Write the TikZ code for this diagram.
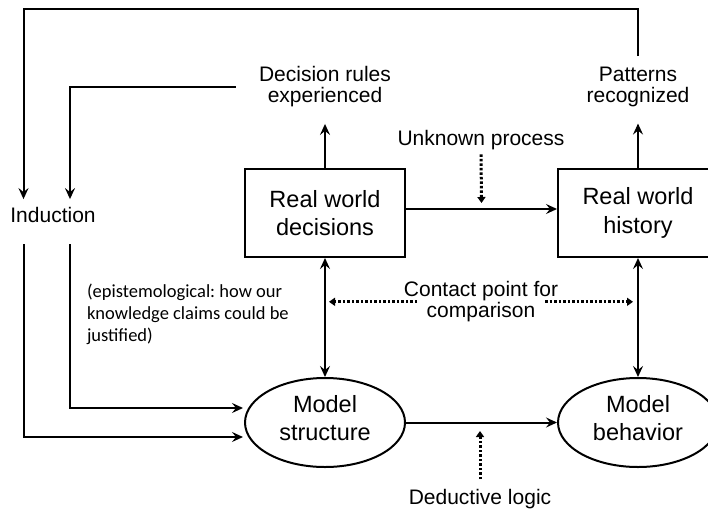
\documentclass[tikz,border=0pt]{standalone}
\usepackage{fontspec}
\setmainfont{Liberation Sans}
\newfontfamily\notefont{Carlito}
\usetikzlibrary{arrows.meta,shapes.geometric,calc}
\frenchspacing

\begin{document}
\begin{tikzpicture}[
    x=1pt, y=-1pt,
    line width=2pt,
    arr/.style={-{Stealth[length=11pt,width=10pt,inset=4pt]}},
    dblarr/.style={{Stealth[length=11pt,width=10pt,inset=4pt]}-{Stealth[length=11pt,width=10pt,inset=4pt]}},
    dotarr/.style={line width=3pt, dash pattern=on 2.5pt off 2pt,
                   -{Triangle[length=6pt,width=8pt]}},
    boxtext/.style={font=\fontsize{23.5}{28.5}\selectfont, align=center},
    label/.style={font=\fontsize{21}{21.5}\selectfont, align=center, inner sep=0pt},
    worldbox/.style={draw, rectangle, boxtext, minimum width=160pt, minimum height=88pt, inner sep=0pt},
    modelshape/.style={draw, ellipse, boxtext, text depth=9pt, minimum width=160pt, minimum height=89pt, inner sep=0pt},
  ]
  \useasboundingbox (0,0) rectangle (708,508);
  \clip (0,0) rectangle (708,508);

  % main blocks
  \node[worldbox]   (rwd) at (325,213)   {Real world\\decisions};
  \node[worldbox]   (rwh) at (638,213)   {Real world\\history};
  \node[modelshape] (ms)  at (325,422.5) {Model\\structure};
  \node[modelshape] (mb)  at (638,422.5) {Model\\behavior};

  % labels
  \node[label] (dec) at (325,86.8) {Decision rules\\experienced};
  \node[label] (pat) at (638,86.8) {Patterns\\recognized};
  \node[label] (ind) at (53,215)   {Induction};
  \node[label] (unk) at (481,140.5) {Unknown process};
  \node[label] (ded) at (480,499)  {Deductive logic};
  \node[label] (contact) at (481,301.8) {Contact point for\\comparison};
  \node[anchor=west, align=left, inner sep=0pt,
        font=\notefont\fontsize{18.5}{22}\selectfont] (epi) at (86,314)
        {(epistemological: how our\\knowledge claims could be\\justified)};

  % tips of the dotted pointers
  \coordinate (unktip) at (481.5,203);
  \coordinate (dedtip) at (480,431);

  % real world flow
  \draw[arr] ([yshift=4pt]rwd.east) -- ([yshift=4pt]rwh.west);
  \draw[arr] (rwd.north) -- ([yshift=-15.6pt]dec.south);
  \draw[arr] (rwh.north) -- ([yshift=-15.6pt]pat.south);

  % feedback to induction
  \draw[arr] ([yshift=9.5pt]pat.north) |- (23.5,9.5) -- ([xshift=-29.5pt,yshift=7.2pt]ind.north);
  \draw[arr] ([xshift=-22.5pt]dec.west) -| ([xshift=17pt,yshift=7.2pt]ind.north);

  % induction into the model structure
  \draw[arr] ([xshift=17pt,yshift=-20.5pt]ind.south) |- ([xshift=-1pt,yshift=14.5pt]ms.west);
  \draw[arr] ([xshift=-29.5pt,yshift=-20.5pt]ind.south) |- ([xshift=-1pt,yshift=-14.5pt]ms.west);

  % model flow and comparison
  \draw[arr] (ms.east) -- (mb.west);
  \draw[dblarr] (rwd.south) -- (ms.north);
  \draw[dblarr] (rwh.south) -- (mb.north);

  % dotted pointers
  \draw[dotarr] ([yshift=-3pt]unk.south) -- (unktip);
  \draw[dotarr] ([yshift=9pt]ded.north) -- (dedtip);
  \draw[dotarr] ([xshift=-64pt]contact.center) -- ($(rwd.south |- contact.center)+(4,0)$);
  \draw[dotarr] ([xshift=64pt]contact.center) -- ($(rwh.south |- contact.center)+(-5,0)$);
\end{tikzpicture}
\end{document}
